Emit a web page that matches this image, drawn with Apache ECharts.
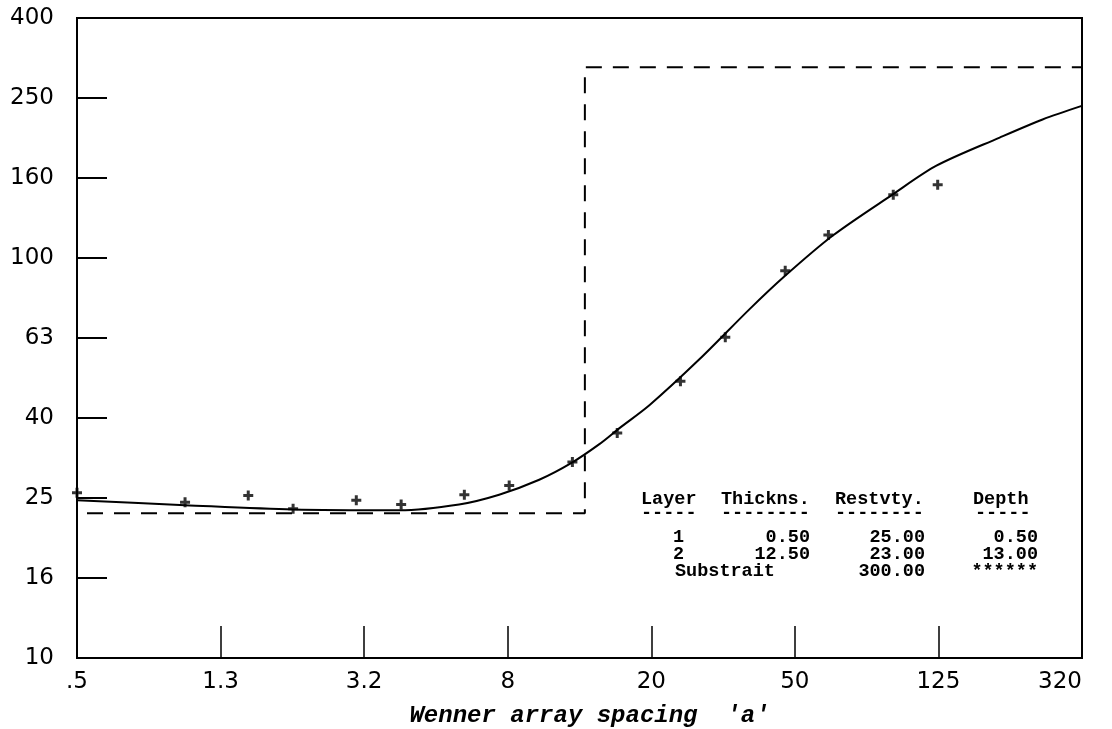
<!DOCTYPE html>
<html>
<head>
<meta charset="utf-8">
<script src="https://cdn.jsdelivr.net/npm/echarts@6.0.0/dist/echarts.min.js"></script>
<style>
  html, body { margin: 0; padding: 0; background: #fff; }
  #chart { width: 1112px; height: 729px; }
</style>
</head>
<body>
<div id="chart"></div>
<script>
// ---- Data ----
const xTickLabels = ['.5', '1.3', '3.2', '8', '20', '50', '125', '320'];
const yTickLabels = ['10', '16', '25', '40', '63', '100', '160', '250', '400'];

// measured apparent resistivity (crosses)
const obsSpacing = [0.5, 1, 1.5, 2, 3, 4, 6, 8, 12, 16, 24, 32, 47, 62, 94, 125];
const obsRho     = [25.9, 24.5, 25.5, 23.6, 24.8, 24.2, 25.6, 27.0, 30.9, 36.5, 49.2, 63.4, 92.9, 114.2, 144, 152.4];

// computed model response (solid curve)
const fitSpacing = [0.5, 1.0, 2.0, 3.95, 5.8, 7.5, 9.7, 11.9, 14.3, 16.2, 19.7, 27.1, 37.4, 46.8, 63.8, 93.5, 124, 186, 245, 315];
const fitRho     = [24.8, 24.1, 23.5, 23.4, 24.2, 25.6, 27.9, 30.7, 34.3, 37.5, 42.9, 55.8, 74.5, 90.0, 113.8, 144, 170.1, 200, 222, 240];

// layered model (dashed step)
const modelDepth = [0.5, 13, 13, 315];
const modelRho   = [23, 23, 300, 300];

// result table
const tableHeaders   = ['Layer', 'Thickns.', 'Restvty.', 'Depth'];
const tableRules     = ['-----', '--------', '--------', '-----'];
const tableLayer     = ['1', '2', 'Substrait'];
const tableThickness = ['0.50', '12.50', ''];
const tableResist    = ['25.00', '23.00', '300.00'];
const tableDepth     = ['0.50', '13.00', '******'];

const xAxisTitle = "Wenner array spacing  'a'";

// ---- log-scale coordinates (axis runs in steps of 10^0.4 from 0.5, and 10^0.2 from 10) ----
const toX = a => Math.log10(a / 0.5) / 0.4;
const toY = r => Math.log10(r / 10) / 0.2;
const pairs = (xs, ys) => xs.map((v, i) => [toX(v), toY(ys[i])]);

const chart = echarts.init(document.getElementById('chart'), null, { renderer: 'canvas' });

const axisFont = { fontFamily: 'DejaVu Sans', fontSize: 23, color: '#000' };
const tableFont = '700 18.5px "Liberation Mono"';

const graphics = [];
const hdrX = [641, 721, 835, 973];
const ruleX = [641, 721, 835, 975];
tableHeaders.forEach((t, i) => graphics.push({ type: 'text', style: { text: t, x: hdrX[i], y: 499, font: tableFont, fill: '#000', align: 'left', verticalAlign: 'middle' } }));
tableRules.forEach((t, i) => graphics.push({ type: 'text', style: { text: t, x: ruleX[i], y: 513, font: tableFont, fill: '#000', align: 'left', verticalAlign: 'middle' } }));
const rowY = [537, 554, 571];
tableLayer.forEach((t, i) => {
  const isNum = /^\d+$/.test(t);
  graphics.push({ type: 'text', style: { text: t, x: isNum ? 684 : 675, y: rowY[i], font: tableFont, fill: '#000', align: isNum ? 'right' : 'left', verticalAlign: 'middle' } });
});
tableThickness.forEach((t, i) => graphics.push({ type: 'text', style: { text: t, x: 810, y: rowY[i], font: tableFont, fill: '#000', align: 'right', verticalAlign: 'middle' } }));
tableResist.forEach((t, i) => graphics.push({ type: 'text', style: { text: t, x: 925, y: rowY[i], font: tableFont, fill: '#000', align: 'right', verticalAlign: 'middle' } }));
tableDepth.forEach((t, i) => graphics.push({ type: 'text', style: { text: t, x: 1038, y: rowY[i], font: tableFont, fill: '#000', align: 'right', verticalAlign: 'middle' } }));

const option = {
  backgroundColor: '#fff',
  animation: false,
  grid: { left: 77, right: 30, top: 18, bottom: 71, outerBoundsMode: 'none', containLabel: false,
          show: true, borderColor: '#000', borderWidth: 2, backgroundColor: 'transparent' },
  xAxis: {
    type: 'value', min: 0, max: 7, interval: 1,
    axisLine: { show: true, lineStyle: { color: '#000', width: 2 } },
    axisTick: { show: true, inside: true, length: 32, lineStyle: { color: '#000', width: 1.5 } },
    splitLine: { show: false },
    axisLabel: Object.assign({ margin: 13, formatter: v => xTickLabels[Math.round(v)], showMinLabel: true, showMaxLabel: true, alignMaxLabel: 'right' }, axisFont),
    name: xAxisTitle,
    nameLocation: 'middle',
    nameGap: 46,
    nameTextStyle: { fontFamily: 'Liberation Mono', fontStyle: 'italic', fontWeight: 'bold', fontSize: 24, color: '#000', padding: [0, 0, 0, 20] }
  },
  yAxis: {
    type: 'value', min: 0, max: 8, interval: 1,
    axisLine: { show: true, lineStyle: { color: '#000', width: 2 } },
    axisTick: { show: true, inside: true, length: 30, lineStyle: { color: '#000', width: 2 } },
    splitLine: { show: false },
    axisLabel: Object.assign({ margin: 23, formatter: v => yTickLabels[Math.round(v)], showMinLabel: true, showMaxLabel: true }, axisFont)
  },
  series: [
    {
      name: 'model', type: 'line', data: pairs(modelDepth, modelRho),
      showSymbol: false, symbol: 'none',
      lineStyle: { color: '#000', width: 2, type: [16, 11], dashOffset: 17 },
      z: 2
    },
    {
      name: 'fit', type: 'line', data: pairs(fitSpacing, fitRho),
      showSymbol: false, symbol: 'none', smooth: 0.3,
      lineStyle: { color: '#000', width: 2 },
      z: 3
    },
    {
      name: 'observed', type: 'scatter', data: pairs(obsSpacing, obsRho),
      symbol: 'path://M3.5,0H6.5V3.5H10V6.5H6.5V10H3.5V6.5H0V3.5H3.5Z', symbolSize: 10,
      itemStyle: { color: '#000' }, clip: false,
      z: 4
    }
  ],
  graphic: graphics
};
chart.setOption(option);
</script>
</body>
</html>
